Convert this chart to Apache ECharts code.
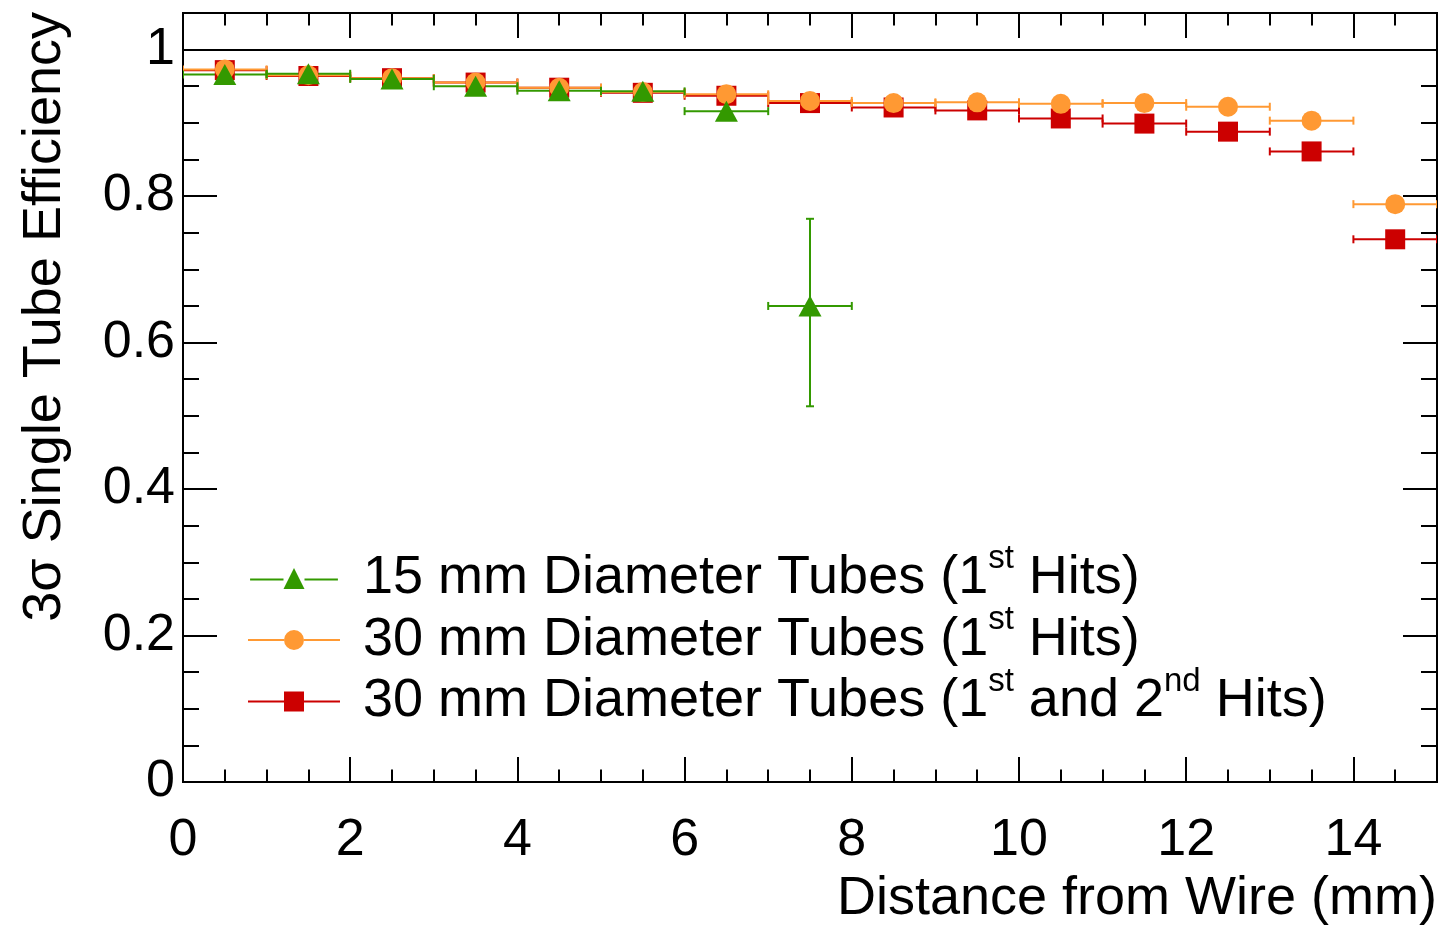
<!DOCTYPE html>
<html>
<head>
<meta charset="utf-8">
<script src="https://cdn.jsdelivr.net/npm/echarts@6/dist/echarts.min.js"></script>
<style>
html,body{margin:0;padding:0;background:#fff;}
#chart{width:1440px;height:928px;}
</style>
</head>
<body>
<div id="chart"></div>
<script>
// ---- data ----
const binWidth = 1; // mm, horizontal error = half bin
const x15 = [0.5, 1.5, 2.5, 3.5, 4.5, 5.5, 6.5, 7.5];
const eff15 = [0.966, 0.967, 0.960, 0.950, 0.944, 0.943, 0.916, 0.650];
const eff15ErrLow = [0, 0, 0, 0, 0, 0, 0, 0.137];
const eff15ErrHigh = [0, 0, 0, 0, 0, 0, 0, 0.119];

const x30 = [0.5, 1.5, 2.5, 3.5, 4.5, 5.5, 6.5, 7.5, 8.5, 9.5, 10.5, 11.5, 12.5, 13.5, 14.5];
const eff30First = [0.973, 0.965, 0.961, 0.955, 0.948, 0.942, 0.939, 0.930, 0.927, 0.928, 0.926, 0.927, 0.922, 0.903, 0.789];
const eff30Both  = [0.972, 0.964, 0.961, 0.955, 0.948, 0.941, 0.937, 0.927, 0.921, 0.917, 0.906, 0.899, 0.888, 0.861, 0.741];
const eff30ErrLow = x30.map(() => 0);
const eff30ErrHigh = x30.map(() => 0);

const xTickLabels = ['0', '2', '4', '6', '8', '10', '12', '14'];
const yTickLabels = ['0', '0.2', '0.4', '0.6', '0.8', '1'];

const seriesNames = [
  '15 mm Diameter Tubes (1st Hits)',
  '30 mm Diameter Tubes (1st Hits)',
  '30 mm Diameter Tubes (1st and 2nd Hits)'
];
const legendRich = {
  [seriesNames[0]]: '{gap|}15 mm Diameter Tubes (1{sup|st} Hits)',
  [seriesNames[1]]: '{gap|}30 mm Diameter Tubes (1{sup|st} Hits)',
  [seriesNames[2]]: '{gap|}30 mm Diameter Tubes (1{sup|st} and 2{sup|nd} Hits)'
};

const GREEN = '#339900', ORANGE = '#ff9933', RED = '#cc0000';
const FONT = "'Liberation Sans', Arial, Helvetica, sans-serif";

function errData(xs, ys, lo, hi) {
  return xs.map((x, i) => [x, ys[i], lo[i], hi[i]]);
}
function ptData(xs, ys) { return xs.map((x, i) => [x, ys[i]]); }

function errRender(color) {
  return function (params, api) {
    const x = api.value(0), y = api.value(1), lo = api.value(2), hi = api.value(3);
    const half = binWidth / 2;
    const l = api.coord([x - half, y]);
    const r = api.coord([x + half, y]);
    const st = { stroke: color, lineWidth: 2 };
    const cap = 4;
    const ch = [
      { type: 'line', shape: { x1: l[0], y1: l[1], x2: r[0], y2: r[1] }, style: st },
      { type: 'line', shape: { x1: l[0], y1: l[1] - cap, x2: l[0], y2: l[1] + cap }, style: st },
      { type: 'line', shape: { x1: r[0], y1: r[1] - cap, x2: r[0], y2: r[1] + cap }, style: st }
    ];
    if (hi > 0) {
      const c = api.coord([x, y]); const t = api.coord([x, y + hi]);
      ch.push({ type: 'line', shape: { x1: c[0], y1: c[1], x2: t[0], y2: t[1] }, style: st });
      ch.push({ type: 'line', shape: { x1: t[0] - cap, y1: t[1], x2: t[0] + cap, y2: t[1] }, style: st });
    }
    if (lo > 0) {
      const c = api.coord([x, y]); const b = api.coord([x, y - lo]);
      ch.push({ type: 'line', shape: { x1: c[0], y1: c[1], x2: b[0], y2: b[1] }, style: st });
      ch.push({ type: 'line', shape: { x1: b[0] - cap, y1: b[1], x2: b[0] + cap, y2: b[1] }, style: st });
    }
    return { type: 'group', children: ch };
  };
}

const axisLineStyle = { color: '#000', width: 2 };
function xAxisDef(pos, interval, tickLen, labels) {
  return {
    type: 'value', position: pos, min: 0, max: 15, interval: interval,
    axisLine: { show: true, onZero: false, lineStyle: axisLineStyle },
    axisTick: { show: true, inside: true, length: tickLen, lineStyle: axisLineStyle },
    splitLine: { show: false },
    axisLabel: labels ? {
      show: true, margin: 33, fontSize: 52, fontFamily: FONT, color: '#000',
      formatter: v => { const i = xTickLabels.indexOf(String(Math.round(v * 1000) / 1000)); return i >= 0 ? xTickLabels[i] : ''; }
    } : { show: false }
  };
}
function yAxisDef(pos, interval, tickLen, labels) {
  return {
    type: 'value', position: pos, min: 0, max: 1.05, interval: interval,
    axisLine: { show: true, onZero: false, lineStyle: axisLineStyle },
    axisTick: { show: true, inside: true, length: tickLen, lineStyle: axisLineStyle },
    splitLine: { show: false },
    axisLabel: labels ? {
      show: true, margin: 8, fontSize: 52, fontFamily: FONT, color: '#000',
      formatter: v => { const s = String(Math.round(v * 1000) / 1000); return yTickLabels.indexOf(s) >= 0 ? s : ''; }
    } : { show: false }
  };
}

const chart = echarts.init(document.getElementById('chart'), null, { renderer: 'canvas' });
chart.setOption({
  animation: false,
  backgroundColor: '#fff',
  grid: { left: 183, right: 2, top: 13, bottom: 146, containLabel: false },
  xAxis: [
    xAxisDef('bottom', 2, 25, true),
    xAxisDef('bottom', 0.5, 12.5, false),
    xAxisDef('top', 2, 25, false),
    xAxisDef('top', 0.5, 12.5, false)
  ],
  yAxis: [
    yAxisDef('left', 0.2, 34, true),
    yAxisDef('left', 0.05, 16, false),
    yAxisDef('right', 0.2, 34, false),
    yAxisDef('right', 0.05, 16, false)
  ],
  legend: {
    orient: 'vertical', left: 248, top: 542, itemGap: -11.5, padding: 0,
    itemWidth: 92, itemHeight: 21,
    data: [
      { name: seriesNames[0], icon: 'path://M0,11L35,11L35,13L0,13Z M57,11L92,11L92,13L57,13Z M46,0L57,22L35,22Z' },
      { name: seriesNames[1], icon: 'path://M0,9L36,9L36,11L0,11Z M56,9L92,9L92,11L56,11Z M36,10A10,10,0,1,1,56,10A10,10,0,1,1,36,10Z' },
      { name: seriesNames[2], icon: 'path://M0,9L36,9L36,11L0,11Z M56,9L92,9L92,11L56,11Z M36,0L56,0L56,20L36,20Z' }
    ],
    formatter: name => legendRich[name],
    textStyle: {
      fontSize: 54, fontFamily: FONT, color: '#000', lineHeight: 60,
      rich: {
        sup: { fontSize: 33, padding: [0, 0, 40, 0], lineHeight: 60 },
        gap: { width: 18 }
      }
    },
    selectedMode: false
  },
  graphic: [
    {
      type: 'text', x: 1437, y: 926, silent: true,
      style: { text: 'Distance from Wire (mm)', font: '54px ' + FONT, fill: '#000', textAlign: 'right', textVerticalAlign: 'bottom' }
    },
    {
      type: 'text', x: 72, y: 12, rotation: Math.PI / 2, silent: true,
      style: { text: '3σ Single Tube Efficiency', font: '54px ' + FONT, fill: '#000', textAlign: 'right', textVerticalAlign: 'bottom' }
    }
  ],
  series: [
    {
      name: 'err30both', type: 'custom', xAxisIndex: 0, yAxisIndex: 0,
      renderItem: errRender(RED), data: errData(x30, eff30Both, eff30ErrLow, eff30ErrHigh),
      encode: { x: 0, y: 1 }, silent: true, clip: true
    },
    {
      name: seriesNames[2], type: 'scatter', xAxisIndex: 0, yAxisIndex: 0,
      symbol: 'rect', symbolSize: 20, itemStyle: { color: RED, opacity: 1 },
      data: ptData(x30, eff30Both), silent: true
    },
    {
      name: 'err30first', type: 'custom', xAxisIndex: 0, yAxisIndex: 0,
      renderItem: errRender(ORANGE), data: errData(x30, eff30First, eff30ErrLow, eff30ErrHigh),
      encode: { x: 0, y: 1 }, silent: true, clip: true
    },
    {
      name: seriesNames[1], type: 'scatter', xAxisIndex: 0, yAxisIndex: 0,
      symbol: 'circle', symbolSize: 20, itemStyle: { color: ORANGE, opacity: 1 },
      data: ptData(x30, eff30First), silent: true
    },
    {
      name: 'err15', type: 'custom', xAxisIndex: 0, yAxisIndex: 0,
      renderItem: errRender(GREEN), data: errData(x15, eff15, eff15ErrLow, eff15ErrHigh),
      encode: { x: 0, y: 1 }, silent: true, clip: true
    },
    {
      name: seriesNames[0], type: 'scatter', xAxisIndex: 0, yAxisIndex: 0,
      symbol: 'triangle', symbolSize: [23, 21], itemStyle: { color: GREEN, opacity: 1 },
      data: ptData(x15, eff15), silent: true,
      markLine: {
        silent: true, symbol: ['none', 'none'], label: { show: false },
        lineStyle: { color: '#000', width: 2, type: 'solid' },
        data: [{ yAxis: 1 }]
      }
    }
  ]
});
</script>
</body>
</html>
